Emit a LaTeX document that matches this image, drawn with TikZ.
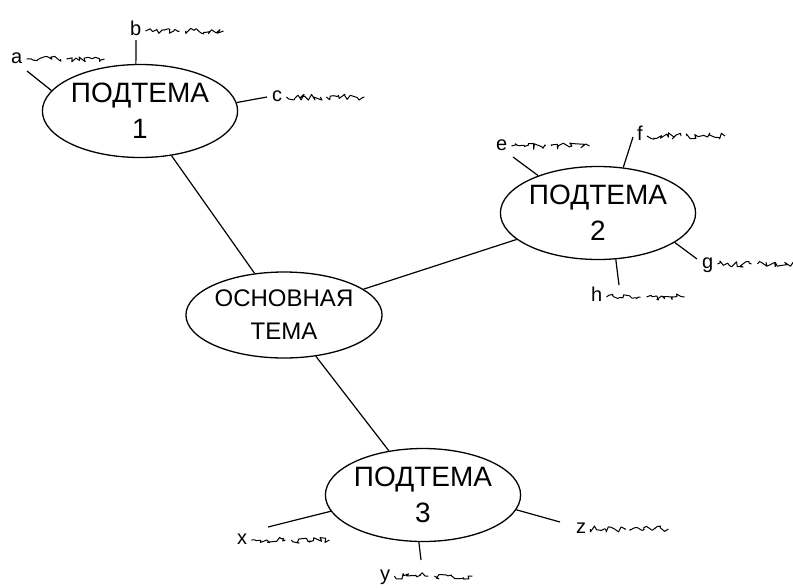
\documentclass[tikz,border=0pt]{standalone}
\usepackage{fontspec}
\setmainfont{Liberation Sans}
\usetikzlibrary{shapes.geometric,decorations.pathmorphing}

\tikzset{
  topic/.style={ellipse,draw,line width=1.3pt,inner sep=0pt,align=center,
    minimum width=194pt,minimum height=93pt,font=\fontsize{28}{36}\selectfont},
  maintopic/.style={topic,minimum width=196pt,minimum height=86pt,
    font=\fontsize{24}{33}\selectfont},
  twig/.style={line width=1.2pt},
  leaf/.style={anchor=base west,inner sep=0pt,font=\fontsize{20}{20}\selectfont},
  scribble/.style={line width=1pt,line join=round,decorate,
    decoration={random steps,segment length=2.5pt,amplitude=3.2pt}},
  scrib/.pic={
    \draw[scribble] (0,-4) -- (34,-4);
    \draw[scribble] (40,-4) -- (78,-4);
  }
}

\begin{document}
\begin{tikzpicture}[x=1pt,y=-1pt]
\pgfmathsetseed{11}
\useasboundingbox (0,0) rectangle (793,587);

\node[maintopic] (main) at (284,315) {ОСНОВНАЯ\\ТЕМА};
\node[topic] (s1) at (140,111) {ПОДТЕМА\\1};
\node[topic] (s2) at (598,213) {ПОДТЕМА\\2};
\node[topic] (s3) at (423,495) {ПОДТЕМА\\3};

\draw[twig] (main) -- (s1);
\draw[twig] (main) -- (s2);
\draw[twig] (main) -- (s3);

% free ends of the twigs
\coordinate (ea) at (27,71);
\coordinate (eb) at (136,40);
\coordinate (ec) at (267,97);
\coordinate (ee) at (513,157);
\coordinate (ef) at (633,137);
\coordinate (eg) at (697,259);
\coordinate (eh) at (619,285);
\coordinate (ex) at (268,527);
\coordinate (ey) at (421,560);
\coordinate (ez) at (560,522);

\foreach \n/\a/\e in {s1/167/ea,s1/95/eb,s1/5/ec,
                      s2/148/ee,s2/61/ef,s2/339/eg,s2/291/eh,
                      s3/190/ex,s3/265/ey,s3/351/ez}
{   \draw[twig] (\n.\a) -- (\e);
}

\foreach \t/\x/\y in {a/11/63,b/130/35,c/272/101,e/496/150,f/637/140,
                      g/702/268,h/591/301,x/237/544,y/380/580,z/576/533}
{   \node[leaf] (l\t) at (\x,\y) {\t};
    \pic at ([xshift=4pt]l\t.base east) {scrib};
}
\end{tikzpicture}
\end{document}
